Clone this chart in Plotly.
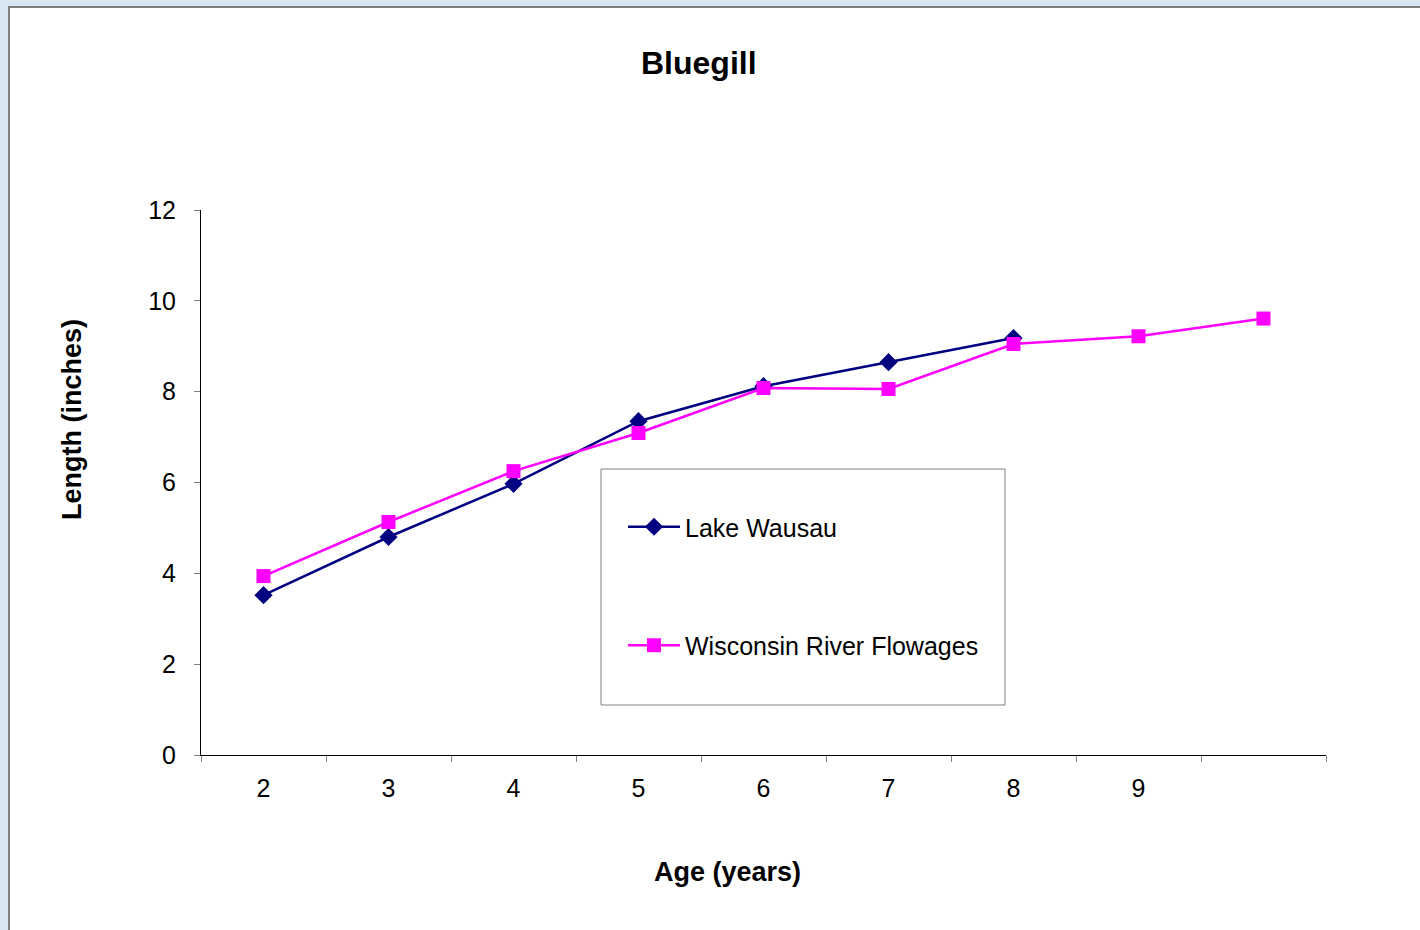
import plotly.graph_objects as go

ages = ["2", "3", "4", "5", "6", "7", "8", "9", " "]
lake_wausau = [3.52, 4.80, 5.97, 7.35, 8.12, 8.65, 9.18]
wisconsin_river = [3.94, 5.13, 6.25, 7.09, 8.08, 8.06, 9.05, 9.22, 9.61]
y_ticks = [0, 2, 4, 6, 8, 10, 12]

W, H = 1420, 930
L, R, T, B = 201, 1326, 210, 755
pw, ph = R - L, B - T

def px(x):
    return (x - L) / pw

def py(y):
    return (B - y) / ph

FONT = "Liberation Sans, Arial, sans-serif"

fig = go.Figure()
fig.add_trace(go.Scatter(
    x=ages[:len(lake_wausau)], y=lake_wausau, name="Lake Wausau",
    mode="lines+markers", legendgroup="a",
    line=dict(color="#000080", width=2.5),
    marker=dict(symbol="diamond", size=14, color="#000080"),
))
fig.add_trace(go.Scatter(
    x=ages[:len(wisconsin_river)], y=wisconsin_river, name="Wisconsin River Flowages",
    mode="lines+markers", legendgroup="b",
    line=dict(color="#ff00ff", width=2.5),
    marker=dict(symbol="square", size=14, color="#ff00ff"),
))

fig.update_layout(
    width=W, height=H,
    margin=dict(l=L, r=W - R, t=T, b=H - B, autoexpand=False),
    paper_bgcolor="#d9e6f4",
    plot_bgcolor="white",
    font=dict(family=FONT, size=25, color="black"),
    showlegend=True,
    legend=dict(
        x=px(623), y=py(504), xanchor="left", yanchor="top",
        bgcolor="rgba(0,0,0,0)", borderwidth=0,
        traceorder="grouped", tracegroupgap=83,
        itemwidth=52,
        font=dict(family=FONT, size=25, color="black"),
    ),
    xaxis=dict(
        type="category", categoryorder="array", categoryarray=ages,
        range=[-0.5, 8.5], tickson="boundaries",
        ticks="outside", ticklen=6, tickcolor="#808080",
        showline=True, linecolor="black", linewidth=1,
        showgrid=False, zeroline=False, ticklabelstandoff=11,
        tickfont=dict(size=25), fixedrange=True,
    ),
    yaxis=dict(
        range=[0, 12], tickvals=y_ticks, ticktext=[str(v) for v in y_ticks],
        ticks="outside", ticklen=6, tickcolor="#808080",
        showline=True, linecolor="black", linewidth=1,
        showgrid=False, zeroline=False, ticklabelstandoff=13,
        tickfont=dict(size=25), fixedrange=True,
    ),
    shapes=[
        dict(type="rect", xref="paper", yref="paper", layer="below",
             x0=px(9), x1=px(1440), y0=py(7), y1=py(950),
             fillcolor="white", line=dict(color="#7f7f7f", width=2)),
        dict(type="rect", xref="paper", yref="paper", layer="above",
             x0=px(601), x1=px(1005), y0=py(469), y1=py(705),
             fillcolor="rgba(0,0,0,0)", line=dict(color="#808080", width=1)),
    ],
    annotations=[
        dict(text="<b>Bluegill</b>", xref="paper", yref="paper",
             x=px(699), y=py(63), xanchor="center", yanchor="middle",
             showarrow=False, font=dict(family=FONT, size=32, color="black")),
        dict(text="<b>Age (years)</b>", xref="paper", yref="paper",
             x=px(727), y=py(872), xanchor="center", yanchor="middle",
             showarrow=False, font=dict(family=FONT, size=27, color="black")),
        dict(text="<b>Length (inches)</b>", xref="paper", yref="paper",
             x=px(72), y=py(420), xanchor="center", yanchor="middle",
             textangle=-90,
             showarrow=False, font=dict(family=FONT, size=27, color="black")),
    ],
)

fig.write_html("out.html", config={"displayModeBar": False},
               post_script="document.body.style.margin='0';")
